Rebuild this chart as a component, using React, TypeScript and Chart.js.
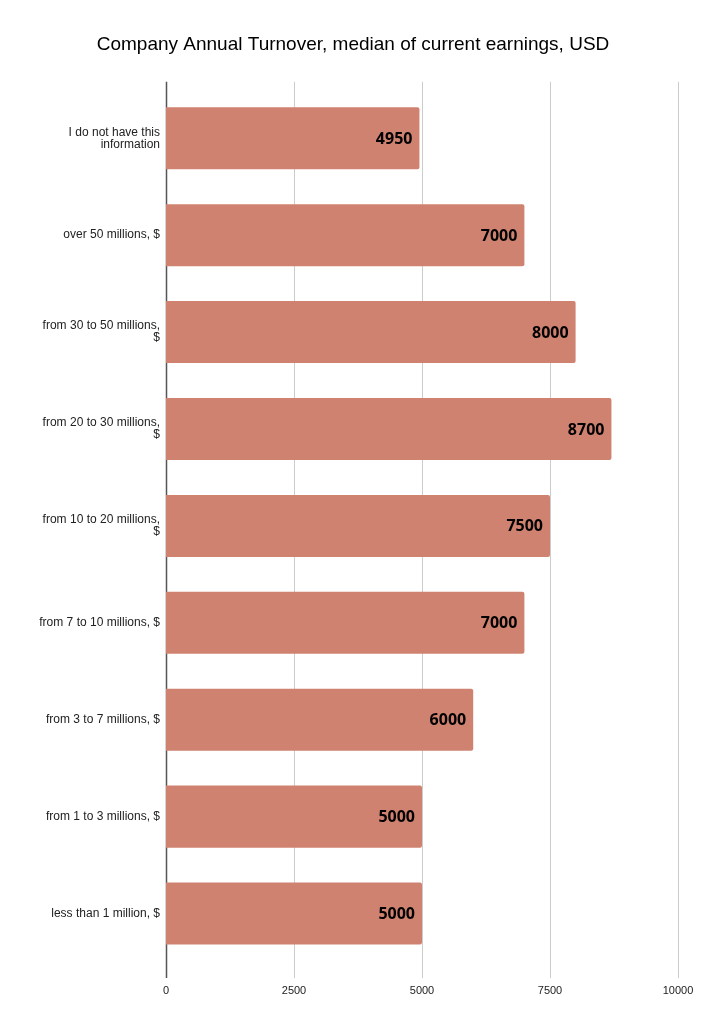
import { useEffect, useRef } from "react";
import { Chart, registerables } from "chart.js";

Chart.register(...registerables);

const categories: (string | string[])[] = [
  ["I do not have this", "information"],
  "over 50 millions, $",
  ["from 30 to 50 millions,", "$"],
  ["from 20 to 30 millions,", "$"],
  ["from 10 to 20 millions,", "$"],
  "from 7 to 10 millions, $",
  "from 3 to 7 millions, $",
  "from 1 to 3 millions, $",
  "less than 1 million, $",
];

const medianEarnings = [4950, 7000, 8000, 8700, 7500, 7000, 6000, 5000, 5000];

const xTicks = [0, 2500, 5000, 7500, 10000];

const BAR_COLOR = "#d08270";
const FONT = "'Liberation Sans', Arial, sans-serif";

// vertical grid lines run a bit past the bar area, like in the sheet export
const gridPlugin = {
  id: "extendedGrid",
  beforeDatasetsDraw(chart: Chart) {
    const { ctx, chartArea, scales } = chart;
    const x = scales.x;
    ctx.save();
    xTicks.forEach((v) => {
      const px = Math.round(x.getPixelForValue(v)) + 0.5;
      ctx.beginPath();
      ctx.strokeStyle = v === 0 ? "#555" : "#cccccc";
      ctx.lineWidth = v === 0 ? 1.5 : 1;
      ctx.moveTo(px, chartArea.top - 8);
      ctx.lineTo(px, chartArea.bottom + 16);
      ctx.stroke();
    });
    ctx.restore();
  },
};

const valueLabels = {
  id: "valueLabels",
  afterDatasetsDraw(chart: Chart) {
    const { ctx } = chart;
    const meta = chart.getDatasetMeta(0);
    ctx.save();
    ctx.font = "bold 16px 'Noto Sans', 'Open Sans', sans-serif";
    ctx.fillStyle = "#000";
    ctx.textAlign = "right";
    ctx.textBaseline = "middle";
    meta.data.forEach((bar: any, i) => {
      ctx.fillText(String(medianEarnings[i]), bar.x - 7, bar.y + 1);
    });
    ctx.restore();
  },
};

export default function App() {
  const chartRef = useRef<HTMLCanvasElement>(null);
  const chartInstance = useRef<Chart | null>(null);

  useEffect(() => {
    document.body.style.margin = "0";
    if (!chartRef.current) return;
    const ctx = chartRef.current.getContext("2d");
    if (!ctx) return;

    chartInstance.current = new Chart(ctx, {
      type: "bar",
      data: {
        labels: categories,
        datasets: [
          {
            label: "Median of current earnings",
            data: medianEarnings,
            backgroundColor: BAR_COLOR,
            borderWidth: 0,
            borderRadius: 2,
            borderSkipped: "start",
            barPercentage: 0.64,
            categoryPercentage: 1,
          },
        ],
      },
      plugins: [gridPlugin, valueLabels],
      options: {
        indexAxis: "y",
        responsive: true,
        maintainAspectRatio: false,
        animation: false,
        layout: {
          padding: { left: 3, right: 0, top: 0, bottom: 0 },
        },
        plugins: {
          legend: { display: false },
          tooltip: { enabled: false },
          title: {
            display: true,
            text: "Company Annual Turnover, median of current earnings, USD",
            color: "#000",
            font: { family: FONT, size: 19, weight: "normal" },
            padding: { top: 33, bottom: 34 },
          },
        },
        scales: {
          x: {
            min: 0,
            max: 10000,
            afterBuildTicks: (scale: any) => {
              scale.ticks = xTicks.map((v) => ({ value: v }));
            },
            afterFit: (scale: any) => {
              scale.height = 62;
              scale.paddingLeft = 0;
              scale.paddingRight = 25;
            },
            grid: { display: false, drawTicks: false, tickLength: 0 },
            border: { display: false },
            ticks: {
              color: "#222",
              font: { family: FONT, size: 11 },
              padding: 22,
              maxRotation: 0,
              callback: (v: any) => String(v),
            },
          },
          y: {
            afterFit: (scale: any) => {
              scale.width = 163;
            },
            grid: { display: false, drawTicks: false, tickLength: 0 },
            border: { display: false },
            ticks: {
              color: "#222",
              font: { family: FONT, size: 12, lineHeight: 1 },
              padding: 6,
            },
          },
        },
      },
    });

    return () => {
      if (chartInstance.current) {
        chartInstance.current.destroy();
      }
    };
  }, []);

  return (
    <div style={{ width: 703, height: 1024, background: "#fff" }}>
      <canvas ref={chartRef} />
    </div>
  );
}
